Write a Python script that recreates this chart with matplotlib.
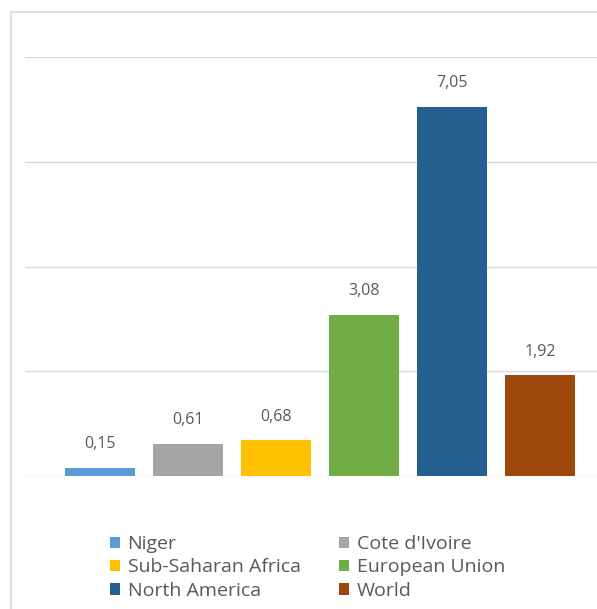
import matplotlib.pyplot as plt
from matplotlib.patches import Rectangle

plt.rcParams['font.family'] = ['Open Sans', 'DejaVu Sans']

regions = ["Niger", "Cote d'Ivoire", "Sub-Saharan Africa", "European Union", "North America", "World"]
values = [0.15, 0.61, 0.68, 3.08, 7.05, 1.92]
labels = ["0,15", "0,61", "0,68", "3,08", "7,05", "1,92"]
colors = ["#5B9BD5", "#A5A5A5", "#FFC000", "#70AD47", "#255E91", "#9E480E"]

fig = plt.figure(figsize=(5.97, 6.09), dpi=100)
fig.patches.append(Rectangle((11 / 597, -1), 3, 2 - 12 / 609,
                             transform=fig.transFigure, fill=False,
                             edgecolor="#D9D9D9", linewidth=1.2))

ax = fig.add_axes([25 / 597, 133 / 609, 1 - 25 / 597, 419 / 609])
bars = []
for i, (name, v, c) in enumerate(zip(regions, values, colors)):
    b = ax.bar(i, v, width=0.8, color=c, label=name, zorder=3)
    bars.append(b)
    ax.text(i, v + 0.3, labels[i], ha="center", va="bottom",
            fontsize=11.5, color="#595959")

ax.set_xlim(-0.85, 5.65)
ax.set_ylim(0, 8)
ax.set_yticks([0, 2, 4, 6, 8])
ax.grid(axis="y", color="#D9D9D9", linewidth=1, zorder=0)
ax.set_xticks([])
ax.tick_params(left=False, labelleft=False)
for s in ax.spines.values():
    s.set_visible(False)

# legend fills row by row in the original
order = [0, 2, 4, 1, 3, 5]
leg = fig.legend([bars[i] for i in order], [regions[i] for i in order],
                 ncol=2, loc="upper left", bbox_to_anchor=(110 / 597, 1 - 535 / 609),
                 frameon=False, fontsize=14, handlelength=0.5, handleheight=0.5,
                 handletextpad=0.4, columnspacing=2.0, labelspacing=0.28,
                 borderaxespad=0, borderpad=0)
for t in leg.get_texts():
    t.set_color("#595959")

fig.savefig("out.png", dpi=100)
